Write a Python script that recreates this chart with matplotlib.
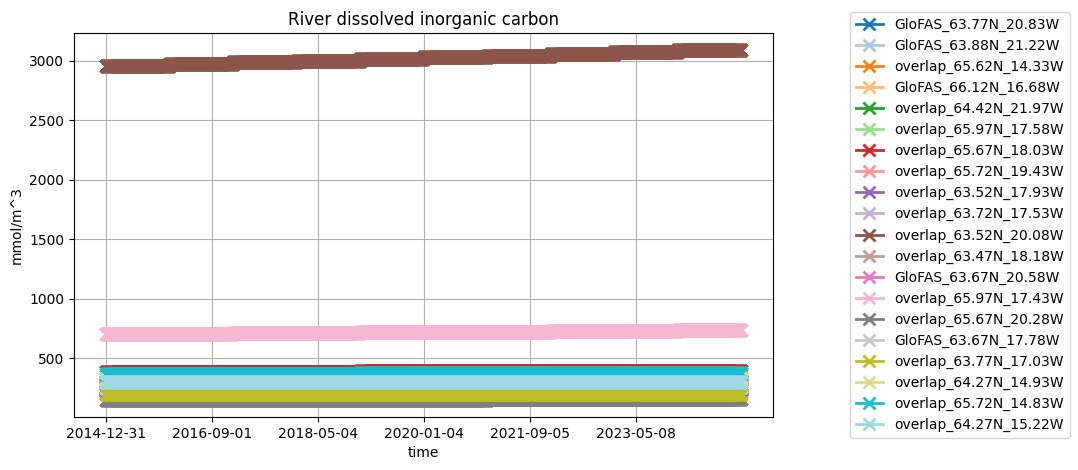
import numpy as np
import pandas as pd
import matplotlib
matplotlib.use('Agg')
import matplotlib.pyplot as plt
import matplotlib.dates as mdates

# daily time axis, values change once a year (2015..2024)
start, end = '2014-12-31', '2024-12-31'
first_year = 2015

names = [
    'GloFAS_63.77N_20.83W', 'GloFAS_63.88N_21.22W', 'overlap_65.62N_14.33W',
    'GloFAS_66.12N_16.68W', 'overlap_64.42N_21.97W', 'overlap_65.97N_17.58W',
    'overlap_65.67N_18.03W', 'overlap_65.72N_19.43W', 'overlap_63.52N_17.93W',
    'overlap_63.72N_17.53W', 'overlap_63.52N_20.08W', 'overlap_63.47N_18.18W',
    'GloFAS_63.67N_20.58W', 'overlap_65.97N_17.43W', 'overlap_65.67N_20.28W',
    'GloFAS_63.67N_17.78W', 'overlap_63.77N_17.03W', 'overlap_64.27N_14.93W',
    'overlap_65.72N_14.83W', 'overlap_64.27N_15.22W',
]

# yearly values, mmol/m^3 (2015 .. 2024)
glofas_63_77_20_83 = [240, 240, 241, 241, 242, 242, 243, 243, 244, 244]
glofas_63_88_21_22 = [310, 310, 311, 311, 312, 312, 313, 313, 314, 314]
overlap_65_62_14_33 = [350, 350, 351, 351, 352, 352, 353, 353, 354, 354]
glofas_66_12_16_68 = [280, 280, 281, 281, 282, 282, 283, 283, 284, 284]
overlap_64_42_21_97 = [255, 255, 256, 256, 257, 257, 258, 258, 259, 259]
overlap_65_97_17_58 = [330, 330, 331, 331, 332, 332, 333, 333, 334, 334]
overlap_65_67_18_03 = [386, 386, 386, 386, 391, 391, 391, 391, 392, 392]
overlap_65_72_19_43 = [270, 270, 271, 271, 272, 272, 273, 273, 274, 274]
overlap_63_52_17_93 = [225, 225, 226, 226, 227, 227, 228, 228, 229, 229]
overlap_63_72_17_53 = [320, 320, 321, 321, 322, 322, 323, 323, 324, 324]
overlap_63_52_20_08 = [2960, 2975, 2990, 3002, 3015, 3030, 3045, 3058, 3072, 3088]
overlap_63_47_18_18 = [210, 210, 211, 211, 212, 212, 213, 213, 214, 214]
glofas_63_67_20_58 = [258, 258, 259, 259, 260, 260, 261, 261, 262, 262]
overlap_65_97_17_43 = [700, 702, 712, 713, 720, 721, 722, 730, 731, 738]
overlap_65_67_20_28 = [151, 151, 151, 151, 151, 151, 153, 153, 153, 153]
glofas_63_67_17_78 = [250, 250, 251, 251, 252, 252, 253, 253, 254, 254]
overlap_63_77_17_03 = [194, 194, 194, 194, 194, 194, 198, 198, 198, 198]
overlap_64_27_14_93 = [320, 320, 321, 321, 322, 322, 323, 323, 324, 324]
overlap_65_72_14_83 = [370, 370, 370, 370, 373, 373, 373, 373, 374, 374]
overlap_64_27_15_22 = [295, 295, 295, 295, 295, 295, 297, 297, 297, 297]

series = [
    glofas_63_77_20_83, glofas_63_88_21_22, overlap_65_62_14_33, glofas_66_12_16_68,
    overlap_64_42_21_97, overlap_65_97_17_58, overlap_65_67_18_03, overlap_65_72_19_43,
    overlap_63_52_17_93, overlap_63_72_17_53, overlap_63_52_20_08, overlap_63_47_18_18,
    glofas_63_67_20_58, overlap_65_97_17_43, overlap_65_67_20_28, glofas_63_67_17_78,
    overlap_63_77_17_03, overlap_64_27_14_93, overlap_65_72_14_83, overlap_64_27_15_22,
]

dates = pd.date_range(start, end, freq='D')
year_idx = np.clip(dates.year - first_year, 0, 9)
colors = plt.get_cmap('tab20').colors

fig, ax = plt.subplots(figsize=(10.78, 4.70), dpi=100)
fig.subplots_adjust(left=74 / 1078, right=773 / 1078, top=1 - 33 / 470, bottom=1 - 417 / 470)

for name, vals, color in zip(names, series, colors):
    y = np.asarray(vals)[year_idx]
    ax.plot(dates, y, marker='x', markersize=8, markeredgewidth=2, linewidth=2,
            color=color, label=name)

ax.set_xticks(dates[::610])
ax.xaxis.set_major_formatter(mdates.DateFormatter('%Y-%m-%d'))
ax.grid(True)
ax.set_title('River dissolved inorganic carbon')
ax.set_xlabel('time')
ax.set_ylabel('mmol/m^3')

ax.legend(loc='upper left', bbox_to_anchor=(850 / 1078, 1 - 12 / 470),
          bbox_transform=fig.transFigure, borderaxespad=0)

fig.savefig('out.png', dpi=100)
